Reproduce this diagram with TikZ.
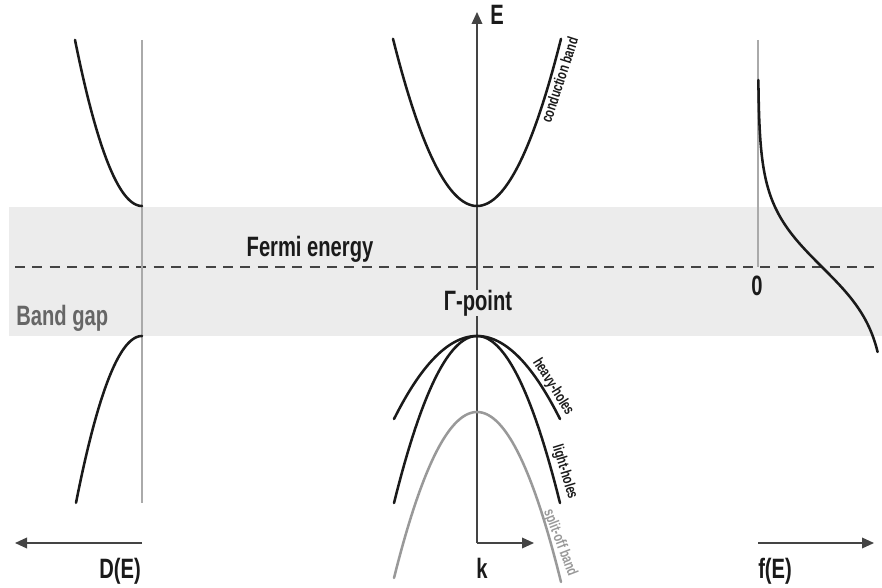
\documentclass[tikz,border=0pt]{standalone}
\usepackage{fontspec}
\newfontfamily\cond{Liberation Sans}[FakeStretch=0.72]
\usetikzlibrary{arrows.meta}
\definecolor{band}{HTML}{ECECEC}
\definecolor{ink}{HTML}{1A1A1A}
\definecolor{axisc}{HTML}{444444}
\definecolor{guide}{HTML}{AAAAAA}
\definecolor{gaptext}{HTML}{666666}
\definecolor{soff}{HTML}{999999}
\tikzset{
  curve/.style={draw=ink, line width=1.9pt, line cap=round},
  guideline/.style={draw=guide, line width=1.1pt},
  axisline/.style={draw=axisc, line width=1.1pt, -{Triangle[length=9pt,width=8pt]}},
  biglabel/.style={font=\cond\bfseries\fontsize{21}{24}\selectfont, text=ink, inner sep=0pt},
  smalllabel/.style={font=\cond\bfseries\fontsize{11.5}{13}\selectfont, text=ink, inner sep=0pt},
}
\begin{document}
\begin{tikzpicture}[x=0.75pt,y=-0.75pt]
\useasboundingbox (0,0) rectangle (882,588);
% band gap region
\fill[band] (9,207) rectangle (882,336);
% fermi level
\coordinate (fl) at (15,267);
\coordinate (fr) at (880,267);
\draw[axisc, line width=0.9pt, dash pattern=on 7.5pt off 5.5pt] (fl) -- (fr);

% ---------- left: density of states ----------
\coordinate (dtop) at (142,40);
\coordinate (dbot) at (142,503);
\draw[guideline] (dtop) -- (dbot);
\draw[curve] plot[domain=75:142, samples=60] (\x, {206 - 0.037*(142-\x)^2});
\draw[curve] plot[domain=76:142, samples=60] (\x, {336 + 0.0383*(142-\x)^2});
\coordinate (dax0) at (142,543);
\coordinate (dax1) at (15,543);
\draw[axisline] (dax0) -- (dax1);
\node[biglabel, anchor=base east] (DE) at (141,578) {D(E)};
\node[biglabel, anchor=base west, text=gaptext] (gap) at (16,325) {Band gap};

% ---------- center: band structure ----------
\coordinate (o) at (477,543);
\coordinate (etip) at (477,12);
\coordinate (ktip) at (534,543);
\draw[axisline] (o) -- (etip);
\draw[axisline] (o) -- (ktip);
\node[biglabel, anchor=base west] (E) at (490,25) {E};
\node[biglabel, anchor=base west] (k) at (476,578) {k};

\draw[curve] plot[domain=393:561, samples=80] (\x, {206 - 0.0237*(\x-477)^2});
\draw[curve] plot[domain=394:560, samples=80] (\x, {336 + 0.01205*(\x-477)^2});
\draw[curve] plot[domain=394:560, samples=80] (\x, {336 + 0.02424*(\x-477)^2});
\draw[curve, draw=soff] plot[domain=394:561, samples=80] (\x, {412 + 0.0241*(\x-477)^2});

\node[smalllabel, rotate=72] (cb) at (559.5,80) {conduction band};
\node[smalllabel, rotate=-58] (hh) at (553,387) {heavy-holes};
\node[smalllabel, rotate=-73] (lh) at (564.5,472) {light-holes};
\node[smalllabel, rotate=-69, text=soff] (so) at (560,543) {split-off band};

\node[biglabel, anchor=base] (fermi) at (310,257) {Fermi energy};
\node[biglabel, anchor=base, fill=band, inner xsep=2pt] (gamma) at (478,310) {Γ-point};

% ---------- right: Fermi function ----------
\coordinate (ftop) at (758,40);
\coordinate (fbot) at (758,267);
\draw[guideline] (ftop) -- (fbot);
\draw[curve] plot[variable=\t, domain=80:352, samples=120] ({758 + 128/(1+exp(-(\t-267)/32))}, \t);
\node[biglabel, anchor=base] (zero) at (757,295) {0};
\coordinate (fax0) at (758,543);
\coordinate (fax1) at (874,543);
\draw[axisline] (fax0) -- (fax1);
\node[biglabel, anchor=base west] (fE) at (758,578) {f(E)};
\end{tikzpicture}
\end{document}
